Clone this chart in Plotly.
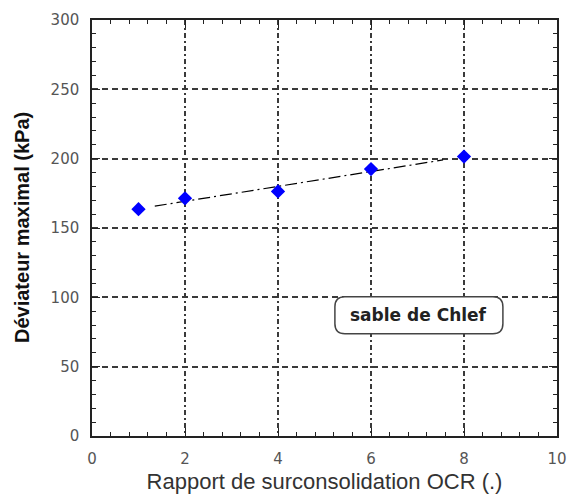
import numpy as np
import plotly.graph_objects as go

# data
ocr = [1, 2, 4, 6, 8]
deviateur = [163.6, 171.4, 176.4, 192.5, 201.5]
fit_range = [1.35, 7.55]
x_ticks = [0, 2, 4, 6, 8, 10]
y_ticks = [0, 50, 100, 150, 200, 250, 300]
x_minor_step = 0.4
y_minor_step = 10
label_text = "sable de Chlef"
label_pos = [7.03, 87]

slope, intercept = np.polyfit(ocr, deviateur, 1)
fit_x = np.array(fit_range)
fit_y = slope * fit_x + intercept

fig = go.Figure()
fig.add_trace(go.Scatter(
    x=fit_x, y=fit_y, mode="lines",
    line=dict(color="black", width=1.2, dash="12px,4px,2px,4px"),
    showlegend=False, hoverinfo="skip"))
fig.add_trace(go.Scatter(
    x=ocr, y=deviateur, mode="markers",
    marker=dict(symbol="diamond", size=11, color="#0000ff"),
    showlegend=False))
# invisible trace so the top/right axes are drawn
fig.add_trace(go.Scatter(x=[None], y=[None], xaxis="x2", yaxis="y2",
                         showlegend=False, hoverinfo="skip"))

# rounded box label
w, h, r = 84, 18.5, 10
path = (f"M {-w+r},{-h} L {w-r},{-h} Q {w},{-h} {w},{-h+r} L {w},{h-r} Q {w},{h} {w-r},{h} "
        f"L {-w+r},{h} Q {-w},{h} {-w},{h-r} L {-w},{-h+r} Q {-w},{-h} {-w+r},{-h} Z")
fig.add_shape(type="path", xref="x", yref="y", xsizemode="pixel", ysizemode="pixel",
              xanchor=label_pos[0], yanchor=label_pos[1], path=path,
              line=dict(color="#444", width=1.5), fillcolor="white", layer="above")
fig.add_annotation(x=label_pos[0], y=label_pos[1], text=label_text, showarrow=False,
                   font=dict(family="DejaVu Sans", size=17, color="#222", weight="bold"))

# y title as annotation
fig.add_annotation(xref="paper", yref="paper", x=0, y=0.5, xshift=-70, textangle=-90,
                   xanchor="center", yanchor="middle",
                   text="Déviateur maximal (kPa)", showarrow=False,
                   font=dict(family="Liberation Sans", size=20, color="#111", weight="bold"))

tick_style = dict(ticks="inside", ticklen=8, tickwidth=1.2, tickcolor="#222",
                  showline=True, linecolor="#222", linewidth=1.5, zeroline=False)

fig.update_layout(
    width=568, height=495,
    margin=dict(l=92, r=11, t=15, b=59),
    plot_bgcolor="white", paper_bgcolor="white",
    xaxis=dict(
        range=[0, 10], dtick=x_ticks[1] - x_ticks[0], automargin="top",
        showgrid=True, gridcolor="#3a3a3a", gridwidth=1.5, griddash="5px,3px,2px,3px",
        minor=dict(dtick=x_minor_step, ticks="inside", ticklen=4, tickwidth=1, tickcolor="#222"),
        tickfont=dict(family="DejaVu Sans", size=15, color="#555"), ticklabelstandoff=8,
        title=dict(text="Rapport de surconsolidation OCR (.)",
                   font=dict(family="Liberation Sans", size=22, color="#333"), standoff=7),
        **tick_style),
    yaxis=dict(
        range=[0, 300], dtick=y_ticks[1] - y_ticks[0],
        showgrid=True, gridcolor="#3a3a3a", gridwidth=1.5, griddash="6px,4px",
        minor=dict(dtick=y_minor_step, ticks="inside", ticklen=4, tickwidth=1, tickcolor="#222"),
        tickfont=dict(family="DejaVu Sans", size=15, color="#555"), ticklabelstandoff=8,
        **tick_style),
    xaxis2=dict(
        overlaying="x", side="top", anchor="y2", range=[0, 10], dtick=x_ticks[1] - x_ticks[0],
        showgrid=False, showticklabels=False,
        minor=dict(dtick=x_minor_step, ticks="inside", ticklen=4, tickwidth=1, tickcolor="#222"),
        **tick_style),
    yaxis2=dict(
        overlaying="y", side="right", anchor="x2", range=[0, 300], dtick=y_ticks[1] - y_ticks[0],
        showgrid=False, showticklabels=False,
        minor=dict(dtick=y_minor_step, ticks="inside", ticklen=4, tickwidth=1, tickcolor="#222"),
        **tick_style),
)

fig.write_html("out.html")
